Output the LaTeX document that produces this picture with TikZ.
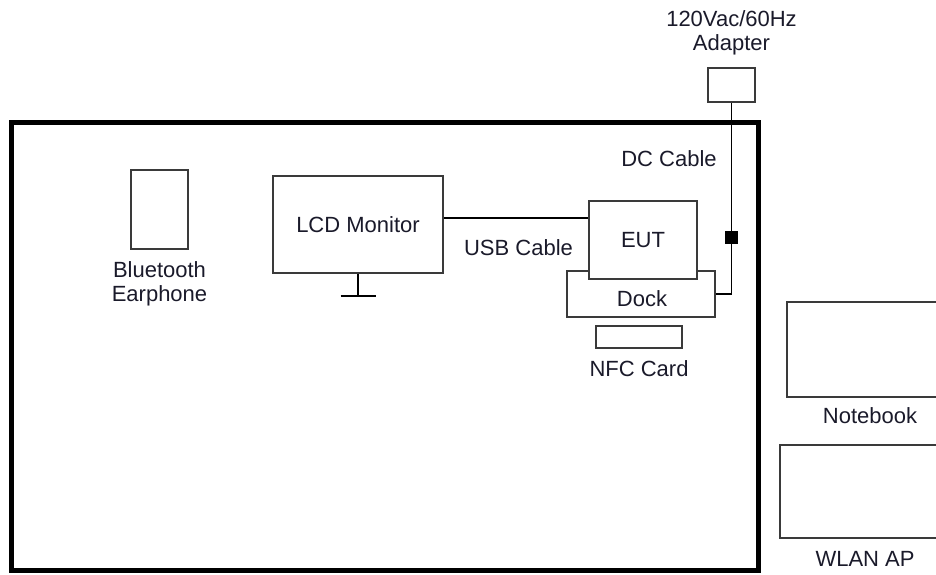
\documentclass[tikz,border=0pt]{standalone}
\usepackage{fontspec}
\setmainfont{Liberation Sans}
\usetikzlibrary{positioning, calc}
\definecolor{lineMain}{HTML}{3A3A3A}
\definecolor{textMain}{HTML}{1A1A2A}
\tikzset{
  room/.style={draw=black, line width=2.5pt, inner sep=0pt},
  device/.style={draw=lineMain, fill=white, line width=1pt, inner sep=0pt,
    font=\fontsize{11}{12}\selectfont, text=textMain},
  cable/.style={draw=black, line width=0.9pt},
  caption/.style={font=\fontsize{11}{12}\selectfont, text=textMain,
    align=center, inner sep=1pt},
  marker/.style={draw=black, fill=black, minimum size=6pt, inner sep=0pt},
}
\begin{document}
\begin{tikzpicture}[x=0.5pt, y=-0.5pt]
  \clip (0,0) rectangle (936,574);

  % === Test room ===
  \node[room, minimum width=373.25pt, minimum height=223.75pt] (room) at (384.75,346.25) {};

  % === Power adapter ===
  \node[device, minimum width=23.5pt, minimum height=17pt] (adapter) at (731.5,85) {};
  \node[caption, above=4.7pt of adapter] (adapterLbl) {120Vac/60Hz\\Adapter};

  % === Devices inside the room ===
  \node[device, minimum width=28.5pt, minimum height=39.5pt] (earphone) at (159.5,209.5) {};
  \node[caption, below=4.5pt of earphone] (earphoneLbl) {Bluetooth\\Earphone};

  \node[device, minimum width=85pt, minimum height=48.5pt] (monitor) at (358,224.5) {LCD Monitor};
  \draw[cable] (monitor.south) -- ++(0,22) coordinate (standFoot);
  \draw[cable] ([xshift=-8.75pt]standFoot) -- ([xshift=8.75pt]standFoot);

  \node[device, minimum width=74pt, minimum height=23pt] (dock) at (641,294) {};
  \node[device, minimum width=54pt, minimum height=39pt] (eut) at (643,240) {EUT};
  \node[caption] (dockLbl) at ($(eut.south)!0.5!(dock.south)$) {Dock};

  \node[device, minimum width=43pt, minimum height=11pt] (nfc) at (639,337) {};
  \node[caption, below=4.5pt of nfc] (nfcLbl) {NFC Card};

  % USB cable
  \coordinate (usbStart) at ([yshift=3.25pt]monitor.east);
  \draw[cable] (usbStart) -- (usbStart -| eut.west);
  \node[caption] (usbLbl) at (518.5,248) {USB Cable};

  % DC cable
  \draw[cable] (adapter.south) |- (dock.east);
  \node[marker, yshift=1.5pt] (choke) at (adapter.south |- eut.center) {};
  \node[caption] (dcLbl) at (669,159) {DC Cable};

  % === Outside the room ===
  \node[device, minimum width=83pt, minimum height=47.5pt] (notebook) at (870,349.5) {};
  \node[caption, below=3.8pt of notebook] (notebookLbl) {Notebook};
  \node[device, minimum width=85pt, minimum height=46.5pt] (wlan) at (865,491.5) {};
  \node[caption, below=5pt of wlan] (wlanLbl) {WLAN AP};

\end{tikzpicture}
\end{document}
